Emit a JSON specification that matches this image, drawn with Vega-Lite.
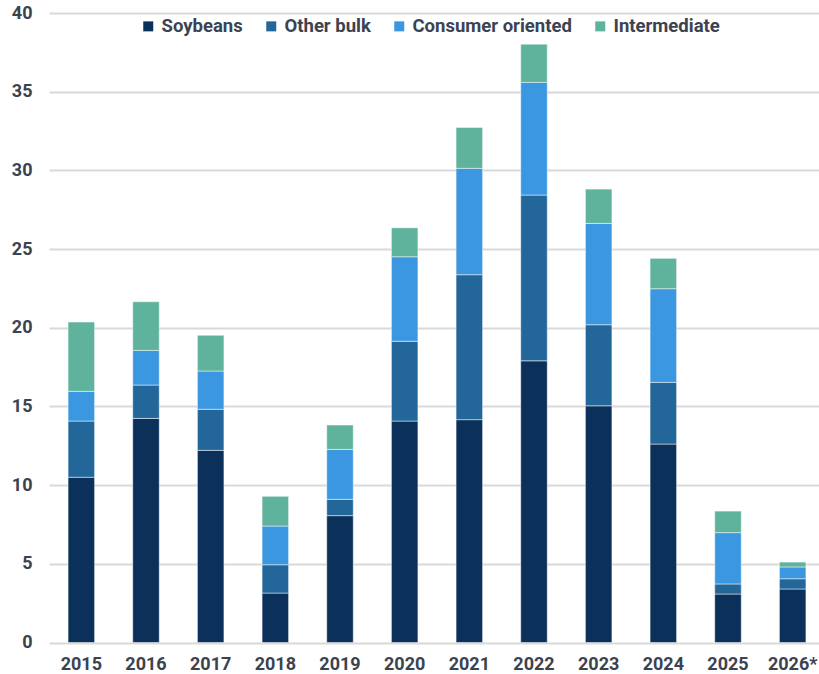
{
  "$schema": "https://vega.github.io/schema/vega-lite/v6.json",
  "autosize": "none",
  "padding": {"left": 49, "top": 13, "right": 0, "bottom": 32},
  "width": 776,
  "height": 629.5,
  "background": "#ffffff",
  "config": {
    "view": {"stroke": null},
    "font": "Roboto",
    "axis": {"labelFont": "Roboto", "labelFontWeight": "bold", "labelFontSize": 18, "labelColor": "#3b4350"},
    "legend": {"labelFont": "Roboto", "labelFontWeight": "bold", "labelFontSize": 18.5, "labelColor": "#3b4350"}
  },
  "data": {
    "values": [
      {"year": "2015", "category": "Soybeans", "rank": 1, "value": 10.5},
      {"year": "2015", "category": "Other bulk", "rank": 2, "value": 3.57},
      {"year": "2015", "category": "Consumer oriented", "rank": 3, "value": 1.89},
      {"year": "2015", "category": "Intermediate", "rank": 4, "value": 4.4},
      {"year": "2016", "category": "Soybeans", "rank": 1, "value": 14.24},
      {"year": "2016", "category": "Other bulk", "rank": 2, "value": 2.12},
      {"year": "2016", "category": "Consumer oriented", "rank": 3, "value": 2.2},
      {"year": "2016", "category": "Intermediate", "rank": 4, "value": 3.09},
      {"year": "2017", "category": "Soybeans", "rank": 1, "value": 12.21},
      {"year": "2017", "category": "Other bulk", "rank": 2, "value": 2.61},
      {"year": "2017", "category": "Consumer oriented", "rank": 3, "value": 2.43},
      {"year": "2017", "category": "Intermediate", "rank": 4, "value": 2.27},
      {"year": "2018", "category": "Soybeans", "rank": 1, "value": 3.14},
      {"year": "2018", "category": "Other bulk", "rank": 2, "value": 1.8},
      {"year": "2018", "category": "Consumer oriented", "rank": 3, "value": 2.46},
      {"year": "2018", "category": "Intermediate", "rank": 4, "value": 1.89},
      {"year": "2019", "category": "Soybeans", "rank": 1, "value": 8.06},
      {"year": "2019", "category": "Other bulk", "rank": 2, "value": 1.04},
      {"year": "2019", "category": "Consumer oriented", "rank": 3, "value": 3.17},
      {"year": "2019", "category": "Intermediate", "rank": 4, "value": 1.55},
      {"year": "2020", "category": "Soybeans", "rank": 1, "value": 14.07},
      {"year": "2020", "category": "Other bulk", "rank": 2, "value": 5.07},
      {"year": "2020", "category": "Consumer oriented", "rank": 3, "value": 5.37},
      {"year": "2020", "category": "Intermediate", "rank": 4, "value": 1.84},
      {"year": "2021", "category": "Soybeans", "rank": 1, "value": 14.16},
      {"year": "2021", "category": "Other bulk", "rank": 2, "value": 9.21},
      {"year": "2021", "category": "Consumer oriented", "rank": 3, "value": 6.76},
      {"year": "2021", "category": "Intermediate", "rank": 4, "value": 2.6},
      {"year": "2022", "category": "Soybeans", "rank": 1, "value": 17.9},
      {"year": "2022", "category": "Other bulk", "rank": 2, "value": 10.53},
      {"year": "2022", "category": "Consumer oriented", "rank": 3, "value": 7.16},
      {"year": "2022", "category": "Intermediate", "rank": 4, "value": 2.43},
      {"year": "2023", "category": "Soybeans", "rank": 1, "value": 15.04},
      {"year": "2023", "category": "Other bulk", "rank": 2, "value": 5.15},
      {"year": "2023", "category": "Consumer oriented", "rank": 3, "value": 6.44},
      {"year": "2023", "category": "Intermediate", "rank": 4, "value": 2.18},
      {"year": "2024", "category": "Soybeans", "rank": 1, "value": 12.61},
      {"year": "2024", "category": "Other bulk", "rank": 2, "value": 3.92},
      {"year": "2024", "category": "Consumer oriented", "rank": 3, "value": 5.95},
      {"year": "2024", "category": "Intermediate", "rank": 4, "value": 1.93},
      {"year": "2025", "category": "Soybeans", "rank": 1, "value": 3.08},
      {"year": "2025", "category": "Other bulk", "rank": 2, "value": 0.64},
      {"year": "2025", "category": "Consumer oriented", "rank": 3, "value": 3.26},
      {"year": "2025", "category": "Intermediate", "rank": 4, "value": 1.37},
      {"year": "2026*", "category": "Soybeans", "rank": 1, "value": 3.4},
      {"year": "2026*", "category": "Other bulk", "rank": 2, "value": 0.65},
      {"year": "2026*", "category": "Consumer oriented", "rank": 3, "value": 0.75},
      {"year": "2026*", "category": "Intermediate", "rank": 4, "value": 0.31}
    ]
  },
  "mark": {"type": "bar", "stroke": "#ffffff", "strokeWidth": 0.6, "strokeOpacity": 0.8},
  "encoding": {
    "x": {
      "field": "year", "type": "nominal", "sort": null,
      "scale": {"paddingInner": 0.59, "paddingOuter": 0.295},
      "axis": {"title": null, "labelAngle": 0, "domain": false, "ticks": false, "grid": false, "labelPadding": 13}
    },
    "y": {
      "field": "value", "type": "quantitative", "stack": "zero",
      "scale": {"domain": [0, 40], "nice": false},
      "axis": {"title": null, "values": [0, 5, 10, 15, 20, 25, 30, 35, 40], "domain": false, "ticks": false, "grid": true, "gridColor": "#d9d9d9", "gridWidth": 2, "labelPadding": 17}
    },
    "color": {
      "field": "category", "type": "nominal",
      "scale": {
        "domain": ["Soybeans", "Other bulk", "Consumer oriented", "Intermediate"],
        "range": ["#0b3059", "#236699", "#3b97e0", "#5fb29c"]
      },
      "legend": {
        "title": null, "orient": "none", "legendX": 90, "legendY": 4, "direction": "horizontal", "columns": 4,
        "symbolType": "square", "symbolSize": 100, "symbolStrokeWidth": 0, "labelOffset": 4, "columnPadding": 19
      }
    },
    "order": {"field": "rank", "type": "quantitative", "sort": "ascending"}
  }
}
